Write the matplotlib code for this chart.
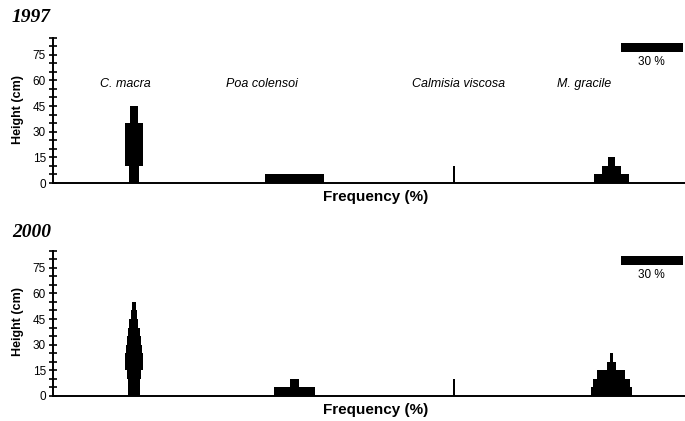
import matplotlib
matplotlib.use("Agg")
import matplotlib.pyplot as plt

plt.rcParams["font.family"] = ["Liberation Sans", "DejaVu Sans"]

# frequency (%) in 5 cm height classes, from 0 cm upward
species = ["C. macra", "Poa colensoi", "Calmisia viscosa", "M. gracile"]

macra_1997 = [5, 5, 9, 9, 9, 9, 9, 4, 4]
poa_1997 = [28.5]
calmisia_1997 = [1.0, 0.6]
gracile_1997 = [17, 9, 3.7]

macra_2000 = [5.5, 5.5, 7, 8.5, 8.5, 8, 7, 5.5, 4.2, 3.2, 2.0]
poa_2000 = [19.7, 4]
calmisia_2000 = [1.4, 0.7]
gracile_2000 = [20, 18, 13.5, 4, 1.8]

years = ["1997", "2000"]
scale_value = 30
height_ticks = [0, 15, 30, 45, 60, 75]

# layout
BIN = 5
CENTERS = [39, 116.5, 193.5, 269.5]
LABEL_X = [22.7, 83.6, 173.4, 243]


def draw_kite(ax, values, center):
    edges = [i * BIN for i in range(len(values) + 1)]
    half = [w / 2 for w in values] + [values[-1] / 2]
    ax.fill_betweenx(edges, [center - h for h in half],
                     [center + h for h in half], step="post",
                     color="black", linewidth=0)


def style_axis(ax):
    ax.set_xlim(0, 305)
    ax.set_ylim(0, 85)
    for side in ["top", "right"]:
        ax.spines[side].set_visible(False)
    ax.spines["left"].set_linewidth(1.4)
    ax.spines["bottom"].set_linewidth(1.4)
    ax.set_xticks([])
    ax.set_yticks(height_ticks)
    ax.set_yticks(range(0, 86, 5), minor=True)
    ax.tick_params(axis="y", which="both", direction="inout", length=6,
                   width=1.2, labelsize=8.5, pad=2)
    # scale bar
    ax.barh(79.2, scale_value, height=4.7, left=274, color="black",
            linewidth=0, clip_on=False)
    ax.text(274 + scale_value / 2, 70.5, f"{scale_value} %", ha="center",
            va="center", fontsize=8.5, clip_on=False)


fig = plt.figure(figsize=(6.85, 4.21), dpi=100)
ax1 = fig.add_axes([0.0774, 0.5653, 0.9226, 0.3454])
ax2 = fig.add_axes([0.0774, 0.0594, 0.9226, 0.3454])

for ax, data in [(ax1, [macra_1997, poa_1997, calmisia_1997, gracile_1997]),
                 (ax2, [macra_2000, poa_2000, calmisia_2000, gracile_2000])]:
    style_axis(ax)
    for vals, c in zip(data, CENTERS):
        draw_kite(ax, vals, c)

for name, x in zip(species, LABEL_X):
    ax1.text(x, 57.8, name, style="italic", fontsize=9, ha="left",
             va="center")

W, H = 685, 421
fig.text(12 / W, 1 - 17 / H, years[0], family="Liberation Serif",
         weight="bold", style="italic", fontsize=14, va="center")
fig.text(12 / W, 1 - 233 / H, years[1], family="Liberation Serif",
         weight="bold", style="italic", fontsize=14, va="center")

for yc in [110, 321]:
    fig.text(18 / W, 1 - yc / H, "Height (cm)", rotation=90, weight="bold",
             fontsize=9, ha="center", va="center")

for yc in [197, 410]:
    fig.text(376 / W, 1 - yc / H, "Frequency (%)", weight="bold",
             fontsize=11, ha="center", va="center")

fig.savefig("out.png", dpi=100)
